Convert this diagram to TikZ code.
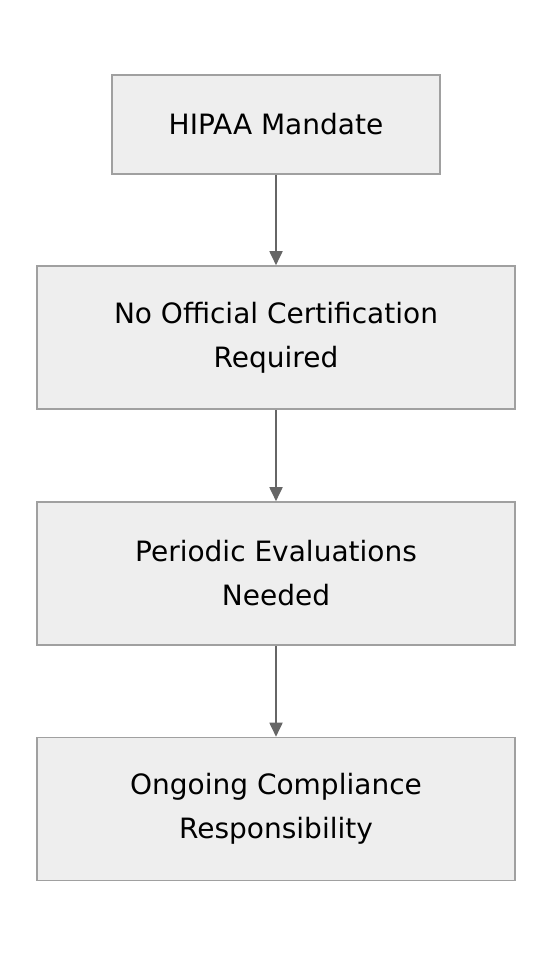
\documentclass[tikz,border=0pt]{standalone}
\usepackage{fontspec}
\setmainfont{DejaVu Sans}
\usetikzlibrary{positioning,arrows.meta}
\definecolor{boxfill}{HTML}{EEEEEE}
\definecolor{boxline}{HTML}{A0A0A0}
\definecolor{arrowgray}{HTML}{666666}
\tikzset{%
  >={Triangle[length=14pt,width=13pt]},
  stepbox/.style={draw=boxline,fill=boxfill,line width=1.6pt,
    align=center,font=\fontsize{28}{44}\selectfont,inner sep=0pt},
  flow/.style={->,draw=arrowgray,line width=1.8pt}
}

\begin{document}
\begin{tikzpicture}[x=1pt,y=-1pt]
	%% page frame
	\useasboundingbox (0,0) rectangle (552,956);
	
	%% boxes
	\node[stepbox,minimum width=328pt,minimum height=99pt] (mandate) at (276,124.5) {HIPAA Mandate};
	\node[stepbox,minimum width=478pt,minimum height=143pt] (nocert) at (276,337.5) {No Official Certification\\Required};
	\node[stepbox,minimum width=478pt,minimum height=143pt] (evals) at (276,573.5) {Periodic Evaluations\\Needed};
	\node[stepbox,minimum width=478pt,minimum height=143pt] (ongoing) at (276,809) {Ongoing Compliance\\Responsibility};
	
	%% arrows
	\draw[flow] (mandate) -- (nocert);
	\draw[flow] (nocert) -- (evals);
	\draw[flow] (evals) -- (ongoing);
\end{tikzpicture}
\end{document}
